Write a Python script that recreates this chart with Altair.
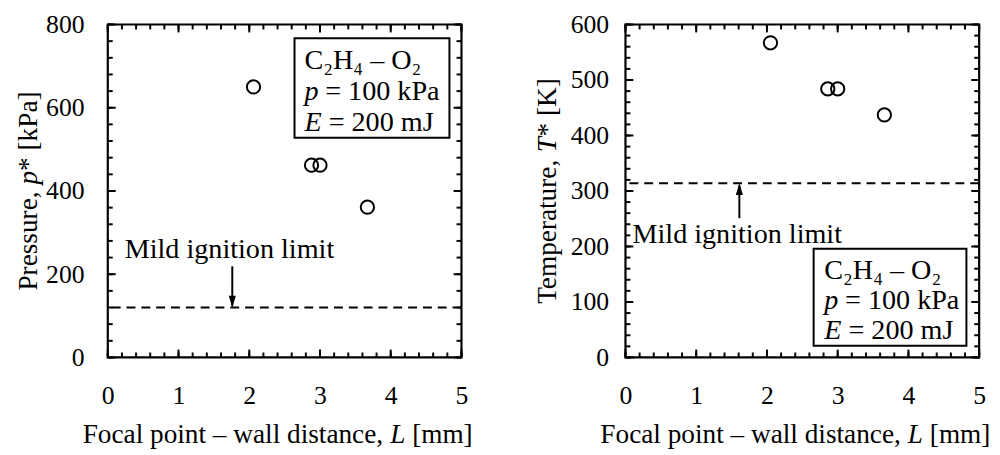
import altair as alt
import pandas as pd

# ---------------- data ----------------
L_p = [2.06, 2.88, 3.00, 3.67]          # focal point - wall distance [mm]
p_star = [650, 462, 462, 361]           # pressure p* [kPa]
L_T = [2.05, 2.86, 3.00, 3.66]
T_star = [567, 484, 484, 437]           # temperature T* [K]
p_limit = 120                           # mild ignition limit (pressure)
T_limit = 314                           # mild ignition limit (temperature)

x_labels = [0, 1, 2, 3, 4, 5]
x_minor = [0, 0.2, 0.4, 0.6, 0.8, 1, 1.2, 1.4, 1.6, 1.8, 2, 2.2, 2.4, 2.6, 2.8,
           3, 3.2, 3.4, 3.6, 3.8, 4, 4.2, 4.4, 4.6, 4.8, 5]
p_labels = [0, 200, 400, 600, 800]
p_minor = [0, 40, 80, 120, 160, 200, 240, 280, 320, 360, 400, 440, 480, 520,
           560, 600, 640, 680, 720, 760, 800]
T_labels = [0, 100, 200, 300, 400, 500, 600]
T_minor = [0, 20, 40, 60, 80, 100, 120, 140, 160, 180, 200, 220, 240, 260, 280,
           300, 320, 340, 360, 380, 400, 420, 440, 460, 480, 500, 520, 540, 560,
           580, 600]

annot_lines = ["C\u2082H\u2084 \u2013 O\u2082", "= 100 kPa", "= 200 mJ"]
annot_vars = ["p", "E"]
limit_text = "Mild ignition limit"
x_title = ["Focal point \u2013 wall distance,", "L", "[mm]"]
p_title = ["Pressure,", "p", "* [kPa]"]
T_title = ["Temperature,", "T", "* [K]"]

# ---------------- style ----------------
FONT = "Liberation Serif"
W, H = 358, 337
FS = 28.5     # annotation text
TFS = 27.6    # axis titles
LW = 2.0      # line width of ticks, dashes, markers
# em advances (Times metrics) used to place the italic pieces of the titles
X_T_OFF = [0, 11.277, 12.083]
X_T_TOT = 14.305
P_T_OFF = [0, 3.888, 4.388]
P_T_TOT = 7.304
T_T_OFF = [0, 5.56, 6.14]
T_T_TOT = 8.28


def title_pieces(pieces, offs, total, horizontal, base):
    out = []
    for i, (txt, off) in enumerate(zip(pieces, offs)):
        style = "italic" if i == 1 else "normal"
        d = pd.DataFrame({"t": [txt]})
        if horizontal:
            x0 = W / 2 - 7 - total * TFS / 2
            enc = dict(x=alt.value(x0 + off * TFS), y=alt.value(H + base), text="t:N")
            m = alt.Chart(d).mark_text(font=FONT, fontSize=TFS, fontStyle=style, align="left",
                                       baseline="alphabetic", color="black")
        else:
            y0 = H / 2 + total * TFS / 2
            enc = dict(x=alt.value(base), y=alt.value(y0 - off * TFS), text="t:N")
            m = alt.Chart(d).mark_text(font=FONT, fontSize=TFS, fontStyle=style, align="left",
                                       baseline="alphabetic", angle=270, color="black")
        out.append(m.encode(**enc))
    return out


def make_panel(Lv, Vv, ymax, ylabels, yminor, ytitle, limit, arrow, text_pos,
               box, box_text, ylab_pad, up, ytitle_x):
    xs = alt.Scale(domain=[0, 5], nice=False, zero=False)
    ys = alt.Scale(domain=[0, ymax], nice=False, zero=False)
    xaxis = alt.Axis(values=x_labels, format="d", ticks=False, domain=False,
                     grid=False, labelPadding=26, labelFlush=False,
                     labelOverlap=False, title=None)
    yaxis = alt.Axis(values=ylabels, format="d", ticks=False, domain=False,
                     grid=False, labelPadding=ylab_pad, labelFlush=False,
                     labelOverlap=False, title=None)

    def X(f):
        return alt.X(f, type="quantitative", scale=xs, axis=xaxis)

    def Y(f):
        return alt.Y(f, type="quantitative", scale=ys, axis=yaxis)

    layers = []
    # ticks (inward, all four sides)
    for vals, ln in [(x_minor, 5), (x_labels, 8)]:
        base = alt.Chart(pd.DataFrame({"v": vals})).mark_rule(color="black", strokeWidth=LW)
        layers.append(base.encode(x=X("v"), y=alt.value(H), y2=alt.value(H - ln)))
        layers.append(base.encode(x=X("v"), y=alt.value(0), y2=alt.value(ln)))
    for vals, ln in [(yminor, 5), (ylabels, 8)]:
        base = alt.Chart(pd.DataFrame({"v": vals})).mark_rule(color="black", strokeWidth=LW)
        layers.append(base.encode(y=Y("v"), x=alt.value(0), x2=alt.value(ln)))
        layers.append(base.encode(y=Y("v"), x=alt.value(W), x2=alt.value(W - ln)))

    # dashed limit
    layers.append(alt.Chart(pd.DataFrame({"lim": [limit]})).mark_rule(
        color="black", strokeWidth=LW, strokeDash=[9, 6]).encode(y=Y("lim")))

    # arrow
    ax, ay1, ay2 = arrow
    layers.append(alt.Chart(pd.DataFrame({"x": [ax], "y1": [ay1], "y2": [ay2]})).mark_rule(
        color="black", strokeWidth=LW).encode(x=X("x"), y=Y("y1"), y2=alt.Y2("y2")))
    head = "M0,0L-0.6,2L0.6,2Z" if up else "M0,0L-0.6,-2L0.6,-2Z"
    layers.append(alt.Chart(pd.DataFrame({"x": [ax], "y": [limit]})).mark_point(
        shape=head, filled=True, size=144, color="black", opacity=1).encode(x=X("x"), y=Y("y")))

    # limit text
    tx, ty = text_pos
    layers.append(alt.Chart(pd.DataFrame({"x": [tx], "y": [ty], "t": [limit_text]})).mark_text(
        font=FONT, fontSize=FS, align="center", baseline="alphabetic", color="black").encode(
        x=X("x"), y=Y("y"), text="t:N"))

    # box
    bx1, bx2, by1, by2 = box
    layers.append(alt.Chart(pd.DataFrame({"x1": [bx1], "x2": [bx2], "y1": [by1], "y2": [by2]})).mark_rect(
        fill="white", stroke="black", strokeWidth=2).encode(
        x=X("x1"), x2=alt.X2("x2"), y=Y("y1"), y2=alt.Y2("y2")))

    # box text
    bt_x, (b1, b2, b3) = box_text
    layers.append(alt.Chart(pd.DataFrame({"x": [bt_x], "y": [b1], "t": [annot_lines[0]]})).mark_text(
        font=FONT, fontSize=FS, align="left", baseline="alphabetic", color="black").encode(
        x=X("x"), y=Y("y"), text="t:N"))
    for yv, var, rest, w in [(b2, annot_vars[0], annot_lines[1], 21), (b3, annot_vars[1], annot_lines[2], 24.5)]:
        d = pd.DataFrame({"x": [bt_x], "y": [yv], "a": [var], "b": [rest]})
        layers.append(alt.Chart(d).mark_text(
            font=FONT, fontSize=FS, fontStyle="italic", align="left", baseline="alphabetic",
            color="black").encode(x=X("x"), y=Y("y"), text="a:N"))
        layers.append(alt.Chart(d).mark_text(
            font=FONT, fontSize=FS, align="left", baseline="alphabetic", dx=w,
            color="black").encode(x=X("x"), y=Y("y"), text="b:N"))

    # data points
    layers.append(alt.Chart(pd.DataFrame({"L": Lv, "v": Vv})).mark_point(
        shape="circle", filled=False, color="black", size=180, strokeWidth=LW, opacity=1).encode(
        x=X("L"), y=Y("v")))

    # axis titles with italic symbols
    layers += title_pieces(x_title, X_T_OFF, X_T_TOT, True, 87)
    yt, yoff, ytot = ytitle
    layers += title_pieces(yt, yoff, ytot, False, ytitle_x)

    return alt.layer(*layers).properties(width=W, height=H)


left = make_panel(L_p, p_star, 800, p_labels, p_minor, (p_title, P_T_OFF, P_T_TOT), p_limit,
                  (1.76, 219, 124), (1.72, 240), (2.64, 4.83, 528, 767),
                  (2.78, (693, 619, 544)), 24, False, -72)
right = make_panel(L_T, T_star, 600, T_labels, T_minor, (T_title, T_T_OFF, T_T_TOT), T_limit,
                   (1.61, 251, 310), (1.58, 207), (2.66, 4.82, 21, 196),
                   (2.81, (142, 88, 33)), 17, True, -70)

chart = alt.hconcat(left, right, spacing=59).properties(
    padding={"left": 5, "top": -1, "right": 0, "bottom": 0}
).configure(background="white").configure_view(
    stroke="black", strokeWidth=2.2
).configure_axis(
    labelFont=FONT, labelFontSize=26, labelColor="black"
)

chart.save("out.html", embed_options={"renderer": "svg", "actions": False})
